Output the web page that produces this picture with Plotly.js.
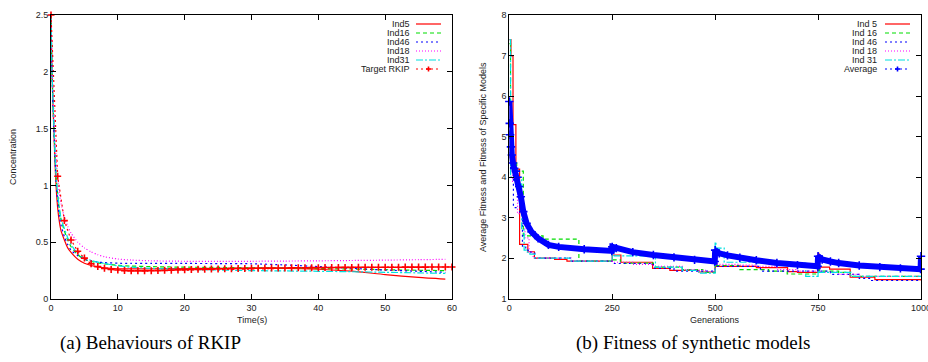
<!DOCTYPE html>
<html>
<head>
<meta charset="utf-8">
<script src="https://cdn.plot.ly/plotly-3.0.1.min.js"></script>
<style>html,body{margin:0;padding:0;background:#fff;}#chart{width:928px;height:362px;}</style>
</head>
<body>
<div id="chart"></div>
<script>
// ---------- Left chart data: behaviours of RKIP ----------
const tModel = [0, 0.15, 0.3, 0.45, 0.6, 0.8, 1, 1.25, 1.5, 2, 2.5, 3, 4, 5, 6, 7, 8, 10, 12, 15, 20, 25, 30, 35, 40, 45, 50, 55, 59];
const ind5  = [2.5, 2.0, 1.7, 1.45, 1.2, 0.95, 0.8, 0.68, 0.6, 0.52, 0.45, 0.41, 0.35, 0.315, 0.295, 0.282, 0.274, 0.266, 0.265, 0.266, 0.268, 0.27, 0.272, 0.27, 0.262, 0.245, 0.215, 0.19, 0.175];
const ind16 = [2.5, 2.02, 1.73, 1.5, 1.27, 1.05, 0.92, 0.79, 0.7, 0.6, 0.52, 0.46, 0.39, 0.35, 0.33, 0.318, 0.31, 0.296, 0.29, 0.285, 0.28, 0.278, 0.275, 0.272, 0.268, 0.264, 0.258, 0.253, 0.25];
const ind46 = [2.5, 2.0, 1.7, 1.47, 1.23, 1.0, 0.86, 0.73, 0.65, 0.55, 0.48, 0.43, 0.38, 0.35, 0.335, 0.325, 0.32, 0.315, 0.314, 0.313, 0.313, 0.312, 0.31, 0.3, 0.285, 0.27, 0.255, 0.244, 0.235];
const ind18 = [2.5, 2.08, 1.82, 1.6, 1.4, 1.2, 1.06, 0.93, 0.84, 0.72, 0.64, 0.58, 0.5, 0.45, 0.415, 0.39, 0.372, 0.352, 0.343, 0.336, 0.332, 0.331, 0.332, 0.334, 0.336, 0.339, 0.342, 0.346, 0.349];
const ind31 = [2.5, 2.02, 1.74, 1.5, 1.27, 1.05, 0.93, 0.8, 0.71, 0.62, 0.54, 0.48, 0.4, 0.36, 0.34, 0.325, 0.312, 0.292, 0.28, 0.27, 0.26, 0.255, 0.25, 0.247, 0.244, 0.24, 0.235, 0.23, 0.225];
const tTarget = [0,1,2,3,4,5,6,7,8,9,10,11,12,13,14,15,16,17,18,19,20,21,22,23,24,25,26,27,28,29,30,31,32,33,34,35,36,37,38,39,40,41,42,43,44,45,46,47,48,49,50,51,52,53,54,55,56,57,58,59,60];
const targetRKIP = [2.5, 1.08, 0.69, 0.52, 0.42, 0.36, 0.31, 0.285, 0.27, 0.26, 0.255, 0.25, 0.248, 0.248, 0.248, 0.249, 0.25, 0.252, 0.254, 0.256, 0.258, 0.26, 0.261, 0.262, 0.263, 0.265, 0.266, 0.267, 0.268, 0.269, 0.27, 0.271, 0.272, 0.272, 0.273, 0.273, 0.274, 0.275, 0.275, 0.276, 0.276, 0.277, 0.277, 0.278, 0.278, 0.278, 0.279, 0.279, 0.279, 0.28, 0.28, 0.28, 0.28, 0.281, 0.281, 0.281, 0.281, 0.282, 0.282, 0.282, 0.282];
const leftNames = ["Ind5", "Ind16", "Ind46", "Ind18", "Ind31", "Target RKIP"];
const leftXTicks = [0, 10, 20, 30, 40, 50, 60];
const leftYTicks = [0, 0.5, 1, 1.5, 2, 2.5];

// ---------- Right chart data: fitness of synthetic models ----------
const gen5  = [0, 4, 9, 16, 25, 45, 61, 110, 140, 250, 271, 348, 390, 460, 500, 503, 600, 676, 700, 750, 752, 778, 828, 888, 1000];
const fit5  = [7.4, 7.0, 5.3, 4.2, 2.34, 2.16, 2.0, 1.97, 1.93, 2.08, 1.9, 1.75, 1.7, 1.66, 2.1, 1.8, 1.77, 1.67, 1.65, 2.12, 1.78, 1.73, 1.53, 1.47, 1.45];
const gen16 = [0, 3, 18, 34, 42, 82, 169, 250, 270, 350, 420, 470, 500, 503, 560, 630, 675, 750, 753, 800, 828, 1000];
const fit16 = [7.3, 4.4, 4.15, 2.56, 2.55, 2.47, 1.93, 1.96, 1.88, 1.78, 1.72, 1.65, 1.95, 1.82, 1.72, 1.68, 1.61, 1.95, 1.68, 1.65, 1.55, 1.53];
const gen46 = [0, 3, 10, 32, 40, 46, 62, 150, 250, 350, 400, 500, 503, 610, 750, 753, 780, 850, 880, 1000];
const fit46 = [4.6, 4.0, 3.25, 2.3, 2.2, 2.15, 2.0, 1.93, 1.87, 1.75, 1.68, 2.1, 1.8, 1.68, 1.7, 1.68, 1.6, 1.5, 1.45, 1.45];
const gen18 = [0, 8, 20, 38, 48, 58, 150, 250, 300, 350, 420, 450, 480, 500, 505, 560, 600, 650, 700, 750, 755, 800, 850, 1000];
const fit18 = [4.5, 3.9, 3.1, 2.5, 2.15, 2.0, 1.93, 1.9, 1.85, 1.8, 1.72, 1.7, 1.66, 2.0, 1.85, 1.83, 1.8, 1.72, 1.68, 1.8, 1.65, 1.6, 1.55, 1.55];
const gen31 = [0, 3, 30, 36, 42, 50, 62, 150, 250, 255, 355, 420, 460, 500, 502, 522, 600, 720, 750, 753, 830, 1000];
const fit31 = [7.4, 4.0, 2.7, 2.2, 2.15, 2.1, 2.0, 1.93, 2.15, 2.06, 1.78, 1.7, 1.63, 2.4, 2.25, 1.9, 1.88, 1.55, 1.9, 1.65, 1.55, 1.55];
const genAvg = [0, 1, 2, 4, 6, 9, 12, 16, 20, 24, 28, 34, 42, 54, 70, 95, 120, 182, 249, 250, 260, 300, 350, 400, 450, 499, 500, 510, 530, 560, 600, 650, 700, 749, 750, 760, 780, 800, 850, 900, 950, 999, 1000];
const fitAvg = [5.87, 5.33, 5.05, 4.75, 4.55, 4.35, 4.22, 4.15, 4.0, 3.77, 3.52, 3.15, 2.86, 2.65, 2.49, 2.33, 2.28, 2.22, 2.18, 2.28, 2.25, 2.15, 2.08, 2.02, 1.96, 1.92, 2.2, 2.12, 2.07, 2.01, 1.95, 1.88, 1.83, 1.8, 2.05, 1.97, 1.92, 1.88, 1.82, 1.78, 1.75, 1.73, 2.05];
const rightNames = ["Ind 5", "Ind 16", "Ind 46", "Ind 18", "Ind 31", "Average"];
const rightXTicks = [0, 250, 500, 750, 1000];
const rightYTicks = [1, 2, 3, 4, 5, 6, 7, 8];

// ---------- Styles ----------
const W = 928, H = 362;
const colors = ["#ff0000", "#00dd00", "#0000ff", "#ff00ff", "#00e0e0"];
const dashes = ["solid", "4px,3px", "2px,3px", "1px,2px", "7px,2px,2px,2px"];
const LW = 1.2;

const traces = [];
const leftY = [ind5, ind16, ind46, ind18, ind31];
leftY.forEach((y, i) => {
  traces.push({x: tModel, y: y, type: "scatter", mode: "lines", xaxis: "x", yaxis: "y",
    line: {color: colors[i], width: LW, dash: dashes[i], shape: "spline", smoothing: 0.6}, showlegend: false, hoverinfo: "skip"});
});
traces.push({x: tTarget, y: targetRKIP, type: "scatter", mode: "lines+markers", xaxis: "x", yaxis: "y",
  line: {color: "#ff0000", width: LW, dash: "2px,3px"},
  marker: {symbol: "cross-thin", size: 5, color: "#ff0000", line: {color: "#ff0000", width: 1.6}},
  showlegend: false, hoverinfo: "skip", cliponaxis: false});

const rightX = [gen5, gen16, gen46, gen18, gen31];
const rightY = [fit5, fit16, fit46, fit18, fit31];
rightX.forEach((x, i) => {
  traces.push({x: x, y: rightY[i], type: "scatter", mode: "lines", xaxis: "x2", yaxis: "y2",
    line: {color: colors[i], width: LW, dash: dashes[i], shape: "hv"}, showlegend: false, hoverinfo: "skip"});
});
traces.push({x: genAvg, y: fitAvg, type: "scatter", mode: "lines+markers", xaxis: "x2", yaxis: "y2",
  line: {color: "#0000ff", width: 6},
  marker: {symbol: "cross-thin", size: 6, color: "#0000ff", line: {color: "#0000ff", width: 1.6}},
  showlegend: false, hoverinfo: "skip", cliponaxis: false});

// ---------- Axes ----------
const px = v => v / W;
const py = v => 1 - v / H;
const tickFont = {family: "Liberation Sans, Arial, sans-serif", size: 9, color: "#222"};
function axis(extra) {
  return Object.assign({showline: true, linecolor: "#000", linewidth: 1, mirror: "ticks", ticks: "inside",
    ticklen: 5, tickcolor: "#000", tickwidth: 1, showgrid: false, zeroline: false, tickfont: tickFont,
    ticklabeloverflow: "allow", fixedrange: true}, extra);
}

const layout = {
  width: W, height: H, margin: {l: 0, r: 0, t: 0, b: 0},
  paper_bgcolor: "#fff", plot_bgcolor: "#fff", showlegend: false,
  xaxis: axis({domain: [px(51), px(452)], range: [0, 60], tickvals: leftXTicks, anchor: "y"}),
  yaxis: axis({domain: [py(299), py(15)], range: [0, 2.5], tickvals: leftYTicks, anchor: "x"}),
  xaxis2: axis({domain: [px(509.3), px(921)], range: [0, 1000], tickvals: rightXTicks, anchor: "y2"}),
  yaxis2: axis({domain: [py(298.7), py(15.3)], range: [1, 8], tickvals: rightYTicks, anchor: "x2"}),
  shapes: [], annotations: []
};

const titleFont = {family: "Liberation Sans, Arial, sans-serif", size: 9, color: "#222"};
layout.annotations.push(
  {text: "Time(s)", xref: "paper", yref: "paper", x: px(251.5), y: py(320), showarrow: false, font: titleFont, xanchor: "center", yanchor: "middle"},
  {text: "Generations", xref: "paper", yref: "paper", x: px(715), y: py(320), showarrow: false, font: titleFont, xanchor: "center", yanchor: "middle"},
  {text: "Concentration", xref: "paper", yref: "paper", x: px(13), y: py(157), showarrow: false, font: titleFont, textangle: -90, xanchor: "center", yanchor: "middle"},
  {text: "Average Fitness and Fitness of Specific Models", xref: "paper", yref: "paper", x: px(483), y: py(157), showarrow: false, font: titleFont, textangle: -90, xanchor: "center", yanchor: "middle"},
  {text: "(a) Behaviours of RKIP", xref: "paper", yref: "paper", x: px(150), y: py(343), showarrow: false, font: {family: "Liberation Serif, DejaVu Serif, serif", size: 19, color: "#000"}, xanchor: "center", yanchor: "middle"},
  {text: "(b) Fitness of synthetic models", xref: "paper", yref: "paper", x: px(693), y: py(343), showarrow: false, font: {family: "Liberation Serif, DejaVu Serif, serif", size: 19, color: "#000"}, xanchor: "center", yanchor: "middle"}
);

// ---------- Gnuplot-style legends (text right, sample on the right) ----------
const legFont = {family: "Liberation Sans, Arial, sans-serif", size: 9, color: "#222"};
function addLegend(names, textRight, s0, s1, lastColor) {
  names.forEach((name, i) => {
    const yy = 24 + i * 9;
    layout.annotations.push({text: name, xref: "paper", yref: "paper", x: px(textRight), y: py(yy),
      showarrow: false, font: legFont, xanchor: "right", yanchor: "middle"});
    const isLast = i === names.length - 1;
    const c = isLast ? lastColor : colors[i];
    const d = isLast ? "2px,3px" : dashes[i];
    layout.shapes.push({type: "line", xref: "paper", yref: "paper", x0: px(s0), x1: px(s1), y0: py(yy), y1: py(yy),
      line: {color: c, width: LW, dash: d}});
    if (isLast) {
      const cx = (s0 + s1) / 2;
      layout.shapes.push({type: "line", xref: "paper", yref: "paper", x0: px(cx - 2.5), x1: px(cx + 2.5), y0: py(yy), y1: py(yy), line: {color: c, width: 1.6}});
      layout.shapes.push({type: "line", xref: "paper", yref: "paper", x0: px(cx), x1: px(cx), y0: py(yy - 2.5), y1: py(yy + 2.5), line: {color: c, width: 1.6}});
    }
  });
}
addLegend(leftNames, 412, 416, 441, "#ff0000");
addLegend(rightNames, 879, 885, 910, "#0000ff");

Plotly.newPlot("chart", traces, layout, {staticPlot: true, displayModeBar: false});
</script>
</body>
</html>
